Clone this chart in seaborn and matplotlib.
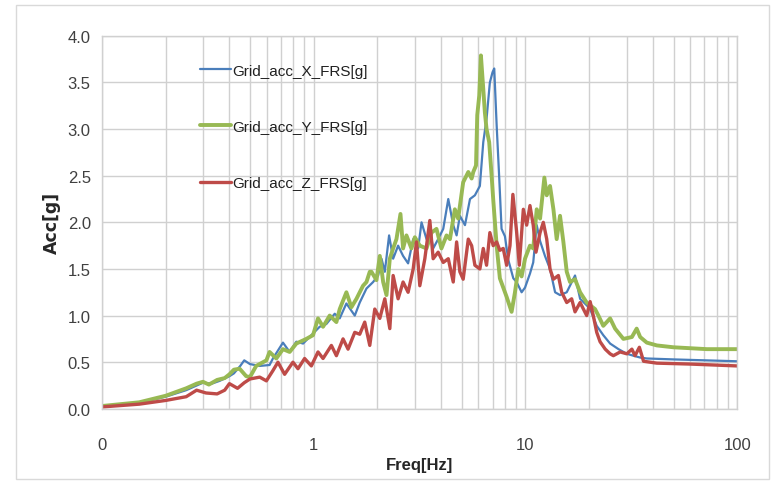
import matplotlib
matplotlib.use("Agg")
import matplotlib.pyplot as plt
import seaborn as sns
from matplotlib.patches import Rectangle
from matplotlib.ticker import FixedLocator, FixedFormatter, LogLocator, NullFormatter

# values
x_freq = [0.1, 0.13, 0.16, 0.2, 0.25, 0.28, 0.3, 0.33, 0.36, 0.4, 0.42, 0.45, 0.47, 0.5,
          0.556, 0.619, 0.642, 0.716, 0.77, 0.828, 0.891, 0.975, 1.067, 1.148, 1.257, 1.327,
          1.427, 1.563, 1.65, 1.775, 1.908, 2.015, 2.09, 2.167, 2.27, 2.372, 2.504, 2.643,
          2.791, 2.95, 3.113, 3.23, 3.41, 3.535, 3.665, 3.87, 4.09, 4.32, 4.56, 4.73, 4.9,
          5.18, 5.47, 5.77, 6.09, 6.32, 6.55, 6.79, 6.99, 7.12, 7.31, 7.52, 7.71, 8.0, 8.29,
          8.76, 9.08, 9.59, 9.95, 10.5, 10.88, 11.3, 11.72, 12.36, 13.06, 13.8, 14.56, 15.66,
          17.14, 18.11, 19.46, 20.2, 21.7, 23.3, 25.1, 27.5, 30.1, 32.3, 34.8, 37.4, 50, 100]
x_acc = [0.03, 0.05, 0.08, 0.13, 0.2, 0.25, 0.28, 0.27, 0.3, 0.35, 0.38, 0.46, 0.52, 0.48,
         0.46, 0.47, 0.54, 0.71, 0.61, 0.72, 0.70, 0.79, 0.88, 0.91, 1.02, 0.97,
         1.13, 1.0, 1.14, 1.29, 1.36, 1.43, 1.61, 1.47, 1.86, 1.61, 1.75, 1.64,
         1.56, 1.82, 1.72, 2.0, 1.82, 1.93, 1.72, 1.82, 1.93, 2.25, 1.97, 1.86, 2.07,
         1.97, 2.25, 2.29, 2.39, 2.86, 3.11, 3.50, 3.61, 3.65, 3.04, 2.47, 1.93, 1.85, 1.6,
         1.4, 1.36, 1.25, 1.3, 1.45, 1.57, 1.97, 1.8, 1.64, 1.50, 1.25, 1.22, 1.25,
         1.43, 1.18, 1.11, 1.07, 0.89, 0.79, 0.70, 0.64, 0.59, 0.57, 0.55, 0.54, 0.53, 0.51]

y_freq = [0.1, 0.15, 0.2, 0.25, 0.28, 0.3, 0.32, 0.35, 0.38, 0.4, 0.42, 0.447, 0.48, 0.5,
          0.535, 0.598, 0.619, 0.666, 0.716, 0.77, 0.828, 0.923, 0.993, 1.048, 1.107, 1.19,
          1.28, 1.327, 1.427, 1.507, 1.592, 1.71, 1.775, 1.84, 1.874, 1.979, 2.052, 2.128,
          2.207, 2.288, 2.372, 2.459, 2.569, 2.643, 2.741, 2.894, 3.003, 3.17, 3.41, 3.6,
          3.8, 4.01, 4.24, 4.40, 4.64, 4.81, 5.08, 5.37, 5.57, 5.67, 5.84, 5.92, 6.05, 6.16,
          6.32, 6.43, 6.55, 6.74, 6.92, 7.04, 7.31, 7.57, 8.15, 8.6, 8.92, 9.25, 9.59, 9.95,
          10.5, 10.88, 11.3, 11.72, 12.28, 12.6, 13.06, 13.55, 14.04, 14.56, 15.1, 15.66,
          16.23, 17.14, 18.11, 19.46, 20.2, 21.3, 22.1, 23.3, 25.1, 26.5, 29.0, 31.8, 33.5,
          34.8, 37.4, 41.7, 50, 60, 71.9, 100]
y_acc = [0.03, 0.07, 0.14, 0.22, 0.27, 0.29, 0.26, 0.31, 0.33, 0.37, 0.42, 0.43, 0.35, 0.34,
         0.46, 0.52, 0.61, 0.54, 0.64, 0.61, 0.70, 0.75, 0.79, 0.97, 0.88, 1.0,
         0.93, 1.07, 1.25, 1.09, 1.18, 1.32, 1.36, 1.47, 1.47, 1.38, 1.64, 1.36,
         1.22, 1.61, 1.72, 1.82, 2.09, 1.72, 1.86, 1.72, 1.84, 1.75, 1.72, 1.89,
         1.93, 1.72, 1.86, 1.82, 2.14, 2.04, 2.43, 2.54, 2.47, 2.54, 2.61, 3.15, 3.36, 3.79,
         3.43, 3.18, 3.0, 2.86, 2.5, 2.25, 1.75, 1.4, 1.2, 1.04, 1.25, 1.5, 1.42, 1.61,
         1.75, 1.72, 2.14, 2.04, 2.48, 2.29, 2.39, 2.14, 1.82, 2.07, 1.79, 1.47,
         1.36, 1.39, 1.25, 1.14, 1.11, 1.07, 1.0, 0.89, 0.97, 0.86, 0.75, 0.77, 0.86,
         0.77, 0.71, 0.68, 0.66, 0.65, 0.64, 0.64]

z_freq = [0.1, 0.15, 0.2, 0.25, 0.28, 0.31, 0.35, 0.38, 0.4, 0.437, 0.47, 0.5, 0.556, 0.598,
          0.642, 0.678, 0.729, 0.798, 0.843, 0.906, 0.975, 1.048, 1.107, 1.212, 1.28, 1.376,
          1.453, 1.563, 1.65, 1.742, 1.84, 1.943, 2.052, 2.167, 2.288, 2.372, 2.504, 2.643,
          2.791, 2.95, 3.058, 3.17, 3.348, 3.535, 3.665, 3.87, 4.09, 4.32, 4.56, 4.73, 4.9,
          5.08, 5.37, 5.57, 5.77, 6.09, 6.32, 6.55, 6.79, 7.04, 7.31, 7.57, 7.85, 8.15, 8.45,
          8.72, 9.08, 9.35, 9.77, 10.13, 10.5, 10.88, 11.21, 11.72, 12.14, 12.6, 13.06, 13.55,
          14.3, 14.83, 15.66, 16.52, 17.14, 18.11, 19.46, 20.2, 20.9, 21.7, 22.5, 23.8, 25.1,
          26.0, 28.0, 30.1, 31.8, 32.9, 34.5, 36.1, 41.7, 60, 100]
z_acc = [0.02, 0.05, 0.09, 0.13, 0.2, 0.17, 0.16, 0.2, 0.27, 0.22, 0.28, 0.32, 0.34, 0.30,
         0.41, 0.50, 0.37, 0.50, 0.43, 0.54, 0.46, 0.61, 0.54, 0.68, 0.57, 0.75,
         0.64, 0.82, 0.8, 0.93, 0.68, 1.07, 0.97, 1.18, 0.86, 1.43, 1.18, 1.36,
         1.25, 1.5, 1.79, 1.32, 1.61, 2.02, 1.61, 1.68, 1.57, 1.61, 1.36, 1.79, 1.47,
         1.39, 1.82, 1.75, 1.54, 1.50, 1.72, 1.54, 1.89, 1.75, 1.79, 1.70, 1.72, 1.54, 1.75,
         2.3, 1.9, 1.54, 2.14, 1.97, 2.18, 1.97, 1.68, 1.89, 2.0, 1.82, 1.50, 1.39,
         1.43, 1.25, 1.14, 1.18, 1.04, 1.14, 1.0, 1.15, 1.0, 0.82, 0.72, 0.64, 0.59,
         0.57, 0.61, 0.59, 0.64, 0.57, 0.66, 0.51, 0.49, 0.48, 0.46]

series_names = ["Grid_acc_X_FRS[g]", "Grid_acc_Y_FRS[g]", "Grid_acc_Z_FRS[g]"]
x_ticks = [0.1, 1, 10, 100]
x_tick_labels = ["0", "1", "10", "100"]
y_ticks = [0.0, 0.5, 1.0, 1.5, 2.0, 2.5, 3.0, 3.5, 4.0]

sns.set_style("white")
plt.rcParams['font.family'] = ['Liberation Sans', 'DejaVu Sans']

fig = plt.figure(figsize=(7.72, 4.85), dpi=100)
ax = fig.add_axes([0.132, 0.155, 0.823, 0.769])

# chart area border
fig.patches.append(Rectangle((16 / 772, 5 / 485), 753 / 772, 474 / 485, transform=fig.transFigure,
                             fill=False, edgecolor="#d9d9d9", linewidth=1.0))

sns.lineplot(x=x_freq, y=x_acc, ax=ax, color="#4a7ebb", linewidth=1.6, label=series_names[0])
sns.lineplot(x=y_freq, y=y_acc, ax=ax, color="#98b954", linewidth=2.8, label=series_names[1])
sns.lineplot(x=z_freq, y=z_acc, ax=ax, color="#be4b48", linewidth=2.4, label=series_names[2])

ax.set_xscale("log")
ax.set_xlim(0.1, 100)
ax.set_ylim(0, 4.0)

ax.xaxis.set_major_locator(FixedLocator(x_ticks))
ax.xaxis.set_major_formatter(FixedFormatter(x_tick_labels))
ax.xaxis.set_minor_locator(LogLocator(base=10, subs=range(2, 10)))
ax.xaxis.set_minor_formatter(NullFormatter())
ax.set_yticks(y_ticks)
ax.set_yticklabels([f"{v:.1f}" for v in y_ticks])

ax.grid(True, which="both", axis="x", color="#d0d0d0", linewidth=1.0)
ax.grid(True, which="major", axis="y", color="#d0d0d0", linewidth=1.0)
for s in ax.spines.values():
    s.set_color("#d0d0d0")
    s.set_linewidth(1.0)

ax.tick_params(axis="both", which="both", length=0, labelsize=12, colors="#404040")
ax.tick_params(axis="x", pad=20)
ax.tick_params(axis="y", pad=8)

ax.set_xlabel("Freq[Hz]", fontsize=12, fontweight="bold", labelpad=4)
ax.set_ylabel("Acc[g]", fontsize=12.5, fontweight="bold", labelpad=5, family=["DejaVu Sans"])

leg = ax.legend(loc="upper left", bbox_to_anchor=(0.155, 0.925), frameon=False,
                fontsize=11, labelspacing=2.75, handlelength=2.0, handletextpad=0.1,
                borderpad=0, borderaxespad=0)
for t in leg.get_texts():
    t.set_color("#202020")

fig.savefig("out.png", dpi=100, facecolor="white")
